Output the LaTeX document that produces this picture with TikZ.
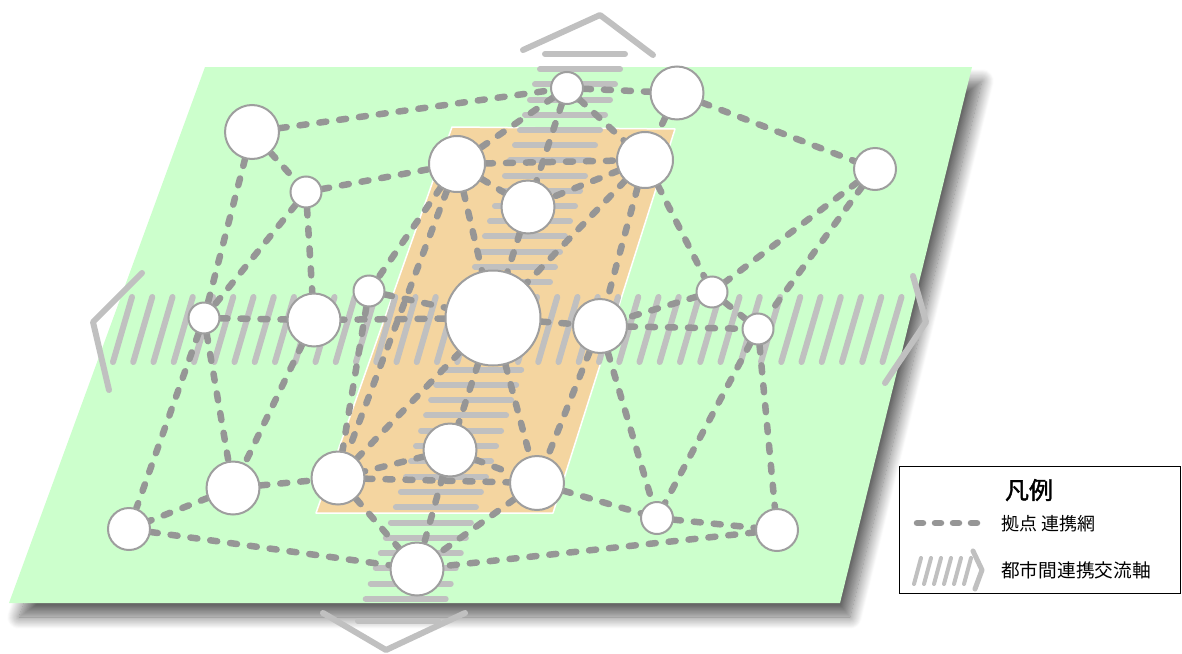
\documentclass[tikz,border=0pt]{standalone}
\usepackage{fontspec}
\newfontfamily\jpfont{Noto Sans CJK JP}
\newfontfamily\jpbold[FakeBold=1.5]{Noto Sans CJK JP}
\usetikzlibrary{shadows.blur}

\definecolor{fieldgreen}{RGB}{204,255,204}
\definecolor{corezone}{RGB}{244,213,160}
\definecolor{linkgray}{RGB}{150,150,150}
\definecolor{axisgray}{RGB}{192,192,192}
\definecolor{ringgray}{RGB}{158,158,158}

\pgfdeclarelayer{base}
\pgfdeclarelayer{links}
\pgfsetlayers{base,links,main}

\tikzset{
  hub/.style={circle, draw=ringgray, line width=2pt, fill=white, inner sep=0pt, minimum size=#1},
  link/.style={draw=linkgray, line width=6.5pt, line cap=round, dash pattern=on 7pt off 13pt},
  axisbar/.style={draw=axisgray, line width=6pt, line cap=round},
  chevron/.style={draw=axisgray, line width=6pt, line cap=round, line join=round},
  jplabel/.style={font=\jpfont\fontsize{#1}{#1}\selectfont, inner sep=0pt},
}

\begin{document}
\begin{tikzpicture}[x=1pt, y=-1pt]
\useasboundingbox (0,0) rectangle (1182,653);

% ---- hubs ----
\node[hub=54pt] (n1) at (252,132) {};
\node[hub=31pt] (n2) at (306,192) {};
\node[hub=32pt] (n3) at (567,88) {};
\node[hub=53pt] (n4) at (677,93) {};
\node[hub=56pt] (n5) at (457,164) {};
\node[hub=56pt] (n6) at (645,160) {};
\node[hub=53pt] (n7) at (528,207) {};
\node[hub=42pt] (n8) at (875,169) {};
\node[hub=31pt] (n9) at (369,291) {};
\node[hub=95pt] (n10) at (493,318) {};
\node[hub=31pt] (n11) at (712,292) {};
\node[hub=31pt] (n12) at (204,318) {};
\node[hub=53pt] (n13) at (314,320) {};
\node[hub=54pt] (n14) at (600,326) {};
\node[hub=31pt] (n15) at (758,329) {};
\node[hub=53pt] (n16) at (450,450) {};
\node[hub=53pt] (n17) at (233,488) {};
\node[hub=53pt] (n18) at (338,478) {};
\node[hub=54pt] (n19) at (537,483) {};
\node[hub=42pt] (n20) at (129,529) {};
\node[hub=32pt] (n21) at (657,518) {};
\node[hub=42pt] (n22) at (777,530) {};
\node[hub=53pt] (n23) at (417,569) {};

% ---- ground, core zone and the two exchange axes ----
\begin{pgfonlayer}{base}
  \fill[fieldgreen, blur shadow={shadow xshift=10pt, shadow yshift=-14pt, shadow blur radius=12pt, shadow opacity=60, shadow blur steps=16}]
    (205,67) -- (972,67) -- (840,603) -- (9,603) -- cycle;
  \filldraw[fill=corezone, draw=white, line width=1.5pt, line join=round]
    (452,127) -- (675,129) -- (553,513) -- (316,513) -- cycle;
  % north-south axis
  \foreach \k in {0,...,15} {
    \pgfmathsetmacro\yy{54+15.2*\k}
    \pgfmathsetmacro\xx{545-0.329*(\yy-54)}
    \draw[axisbar] (\xx,\yy) -- ++(80,0);
  }
  \foreach \k in {0,...,15} {
    \pgfmathsetmacro\yy{599-15.3*\k}
    \pgfmathsetmacro\xx{545-0.329*(\yy-54)}
    \draw[axisbar] (\xx,\yy) -- ++(80,0);
  }
  \draw[axisbar] (358,621) -- ++(80,0);
  \draw[chevron] (523,50) -- (600,15) -- (653,55);
  \draw[chevron] (323,613) -- (386,650) -- (465,613);
  % east-west axis
  \foreach \k in {0,...,38} {
    \pgfmathsetmacro\xx{113+20.25*\k}
    \draw[axisbar] (\xx,362) -- ++(19,-65);
  }
  \draw[chevron] (142,273) -- (93,322) -- (109,390);
  \draw[chevron] (913,276) -- (926,322) -- (885,383);
\end{pgfonlayer}

% ---- hub links ----
\begin{pgfonlayer}{links}
  \foreach \a/\b in {n1/n3, n1/n2, n1/n12, n2/n5, n2/n12, n2/n13,
                     n3/n4, n3/n5, n3/n7, n3/n6, n4/n6, n4/n8,
                     n5/n6, n5/n7, n5/n10, n5/n9, n5/n18,
                     n6/n7, n6/n10, n6/n14, n6/n11, n7/n10,
                     n8/n11, n8/n15, n9/n10, n9/n18,
                     n10/n13, n10/n14, n10/n16, n10/n18, n10/n19,
                     n11/n14, n11/n15, n12/n13, n12/n17, n12/n20,
                     n13/n17, n14/n15, n14/n19, n14/n21,
                     n15/n21, n15/n22, n16/n18, n16/n19, n16/n23,
                     n17/n18, n17/n20, n18/n19, n18/n23,
                     n19/n21, n19/n23, n20/n23, n21/n22, n22/n23}
    \draw[link] (\a) -- (\b);
\end{pgfonlayer}

% ---- legend ----
\node[draw=black, line width=1.2pt, fill=white, anchor=north west,
      minimum width=281pt, minimum height=127pt, inner sep=0pt] (legend) at (899,466) {};
\node[inner sep=0pt, font=\jpbold\fontsize{24}{24}\selectfont] (legtitle) at (1029,490) {凡例};
\coordinate (ls1) at (917,523);
\coordinate (ls2) at (985,523);
\draw[link, dash pattern=on 6pt off 12pt] (ls1) -- (ls2);
\node[jplabel=18, anchor=west] (leglink) at (1001,524) {拠点 連携網};
\foreach \k in {0,...,5} {
  \draw[axisbar, line width=4pt] (914+10*\k,584) -- ++(7,-26);
}
\draw[chevron, line width=5pt] (973,551) -- (982,570) -- (975,589);
\node[jplabel=18.7, anchor=west] (legaxis) at (1001,570) {都市間連携交流軸};
\end{tikzpicture}
\end{document}
